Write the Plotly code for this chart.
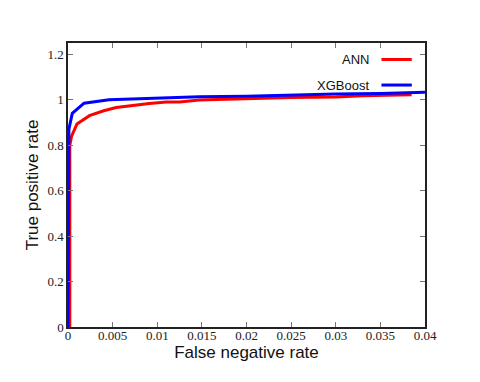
import plotly.graph_objects as go

# ANN (red) ROC-like curve
ann_x = [0.0002, 0.0002, 0.0004, 0.001, 0.0024, 0.004, 0.0054, 0.007, 0.0091, 0.011, 0.0125,
         0.0147, 0.018, 0.02, 0.025, 0.03, 0.033, 0.0385]
ann_y = [0.0, 0.80, 0.84, 0.893, 0.93, 0.952, 0.966, 0.975, 0.984, 0.99, 0.99,
         0.999, 1.003, 1.007, 1.01, 1.012, 1.018, 1.022]

# XGBoost (blue)
xgb_x = [0.0, 0.0001, 0.00048, 0.0018, 0.0046, 0.01, 0.0147, 0.02, 0.025, 0.03, 0.035, 0.04]
xgb_y = [0.0, 0.871, 0.94, 0.985, 1.0, 1.008, 1.013, 1.016, 1.022, 1.025, 1.028, 1.033]

x_ticks = [0, 0.005, 0.01, 0.015, 0.02, 0.025, 0.03, 0.035, 0.04]
x_ticktext = ["0", "0.005", "0.01", "0.015", "0.02", "0.025", "0.03", "0.035", "0.04"]
y_ticks = [0, 0.2, 0.4, 0.6, 0.8, 1.0, 1.2]
y_ticktext = ["0", "0.2", "0.4", "0.6", "0.8", "1", "1.2"]

fig = go.Figure()
fig.add_trace(go.Scatter(x=ann_x, y=ann_y, mode="lines", name="ANN",
                         line=dict(color="#ff0000", width=3)))
fig.add_trace(go.Scatter(x=xgb_x, y=xgb_y, mode="lines", name="XGBoost",
                         line=dict(color="#0000ff", width=3)))

tickfont = dict(family="Liberation Serif", size=13, color="#222")
titlefont = dict(family="Liberation Sans", size=17, color="#111")

fig.update_layout(
    width=472, height=374,
    margin=dict(l=60, r=55, t=35, b=55),
    paper_bgcolor="white", plot_bgcolor="white",
    showlegend=False,
    xaxis=dict(range=[0, 0.04], tickvals=x_ticks, ticktext=x_ticktext,
               ticks="inside", ticklen=5, tickcolor="#777", mirror="ticks",
               showline=True, linecolor="#222", linewidth=1.5, showgrid=False,
               zeroline=False, tickfont=tickfont, automargin=False,
               ticklabelstandoff=-4,
               title=dict(text="False negative rate", font=titlefont, standoff=0)),
    yaxis=dict(range=[0, 1.25], tickvals=y_ticks, ticktext=y_ticktext,
               ticks="inside", ticklen=5, tickcolor="#777", mirror="ticks",
               showline=True, linecolor="#222", linewidth=1.5, showgrid=False,
               zeroline=False, tickfont=tickfont, automargin=False,
               title=dict(text="True positive rate", font=titlefont, standoff=4)),
)

# legend drawn gnuplot-style: text left, line sample right
legend_items = [("ANN", "#ff0000", 0.942), ("XGBoost", "#0000ff", 0.852)]
for label, color, ypos in legend_items:
    fig.add_annotation(x=0.85, y=ypos, xref="paper", yref="paper", text=label,
                       showarrow=False, xanchor="right", yanchor="middle",
                       font=dict(family="Liberation Sans", size=13, color="#111"))
    fig.add_shape(type="line", xref="paper", yref="paper", x0=0.878, x1=0.963,
                  y0=ypos, y1=ypos, line=dict(color=color, width=3))

fig.write_html("out.html")
